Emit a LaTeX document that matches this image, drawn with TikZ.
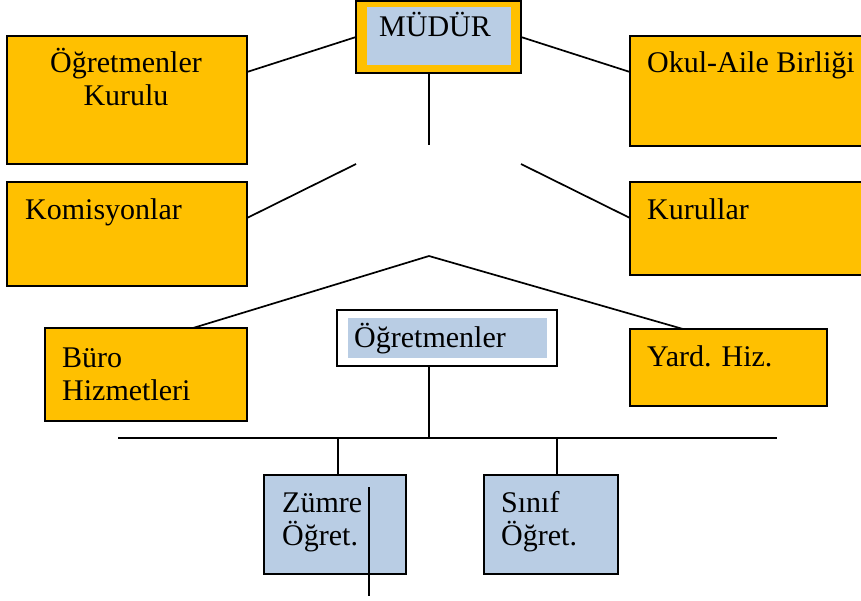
\documentclass[tikz,border=0pt]{standalone}
\usepackage{fontspec}
\setmainfont{Liberation Serif}
\usepackage{xcolor}
\definecolor{GoldBox}{RGB}{255,192,0}
\definecolor{PaleBlue}{RGB}{185,205,228}
\tikzstyle{orangeBox}=[draw, fill=GoldBox, line width=2pt, anchor=north west, outer sep=0pt, inner sep=0pt]
\tikzstyle{blueBox}=[draw, fill=PaleBlue, line width=2pt, anchor=north west, outer sep=0pt, inner sep=0pt]
\tikzstyle{whiteBox}=[draw, fill=white, line width=2pt, anchor=north west, outer sep=0pt, inner sep=0pt]
\tikzstyle{blueFill}=[fill=PaleBlue, anchor=north west, outer sep=0pt, inner sep=0pt]
\tikzstyle{boxText}=[anchor=north west, inner sep=0pt, align=left]
\tikzstyle{orgLine}=[line width=1.7pt]
\newcommand{\ustrut}{\rule{0pt}{27pt}}

\begin{document}
\begin{tikzpicture}[x=1pt, y=-1pt, font=\fontsize{30}{33}\selectfont]
    \useasboundingbox (0,0) rectangle (861,600);

    % Top level
    \node[orangeBox, minimum width=165, minimum height=72] (mudur) at (356,1) {};
    \node[blueFill, minimum width=144, minimum height=58, label={[boxText, shift={(12,2)}]north west:\ustrut MÜDÜR}] (mudurIc) at (367,7) {};
    \node[orangeBox, minimum width=240, minimum height=128, label={[boxText, anchor=north, align=center, shift={(-1,9)}]north:\ustrut Öğretmenler\\Kurulu}] (kurul) at (7,36) {};
    \node[orangeBox, minimum width=240, minimum height=110, label={[boxText, shift={(17,9)}]north west:\ustrut Okul-Aile Birliği}] (okul) at (630,36) {};

    % Second level
    \node[orangeBox, minimum width=240, minimum height=104, label={[boxText, shift={(18,10)}]north west:\ustrut Komisyonlar}] (kom) at (7,182) {};
    \node[orangeBox, minimum width=240, minimum height=93, label={[boxText, shift={(17,10)}]north west:\ustrut Kurullar}] (kurullar) at (630,182) {};

    % Third level
    \node[orangeBox, minimum width=202, minimum height=93, label={[boxText, shift={(17,12)}]north west:\ustrut Büro\\Hizmetleri}] (buro) at (45,328) {};
    \node[whiteBox, minimum width=220, minimum height=56] (ogr) at (337,310) {};
    \node[blueFill, minimum width=199, minimum height=40, label={[boxText, shift={(6,2)}]north west:\ustrut Öğretmenler}] (ogrIc) at (348,318) {};
    \node[orangeBox, minimum width=197, minimum height=77, label={[boxText, shift={(17,10)}]north west:\ustrut Yard. Hiz.}] (yard) at (630,329) {};

    % Bottom level
    \node[blueBox, minimum width=142, minimum height=99, label={[boxText, shift={(18,10)}]north west:\ustrut Zümre\\Öğret.}] (zumre) at (264,475) {};
    \node[blueBox, minimum width=134, minimum height=99, label={[boxText, shift={(17,10)}]north west:\ustrut Sınıf\\Öğret.}] (sinif) at (484,475) {};

    % Connectors
    \coordinate (mudurAlt) at (429,145);
    \coordinate (solUc) at (356,164);
    \coordinate (sagUc) at (521,164);
    \coordinate (tepe) at (429,256);
    \coordinate (hatSol) at (118,438);
    \coordinate (hatSag) at (777,438);
    \coordinate (zumreUst) at ([xshift=3pt]zumre.north);
    \coordinate (sinifUst) at ([xshift=6pt]sinif.north);
    \coordinate (cizgiUst) at (369,487);
    \coordinate (cizgiAlt) at (369,596);

    \draw[orgLine] (mudur.west) -- ([shift={(0,36)}]kurul.north east);
    \draw[orgLine] (mudur.east) -- ([shift={(0,36)}]okul.north west);
    \draw[orgLine] ([shift={(-9.5,0)}]mudur.south) -- (mudurAlt);
    \draw[orgLine] (solUc) -- ([shift={(0,36)}]kom.north east);
    \draw[orgLine] (sagUc) -- ([shift={(0,36)}]kurullar.north west);
    \draw[orgLine] ([shift={(148,0)}]buro.north west) -- (tepe) -- ([shift={(53,0)}]yard.north west);
    \draw[orgLine] (ogr.south -| tepe) -- (tepe |- hatSol);
    \draw[orgLine] (hatSol) -- (hatSag);
    \draw[orgLine] (zumreUst) -- (zumreUst |- hatSol);
    \draw[orgLine] (sinifUst) -- (sinifUst |- hatSol);
    \draw[orgLine] (cizgiUst) -- (cizgiAlt);

\end{tikzpicture}
\end{document}
